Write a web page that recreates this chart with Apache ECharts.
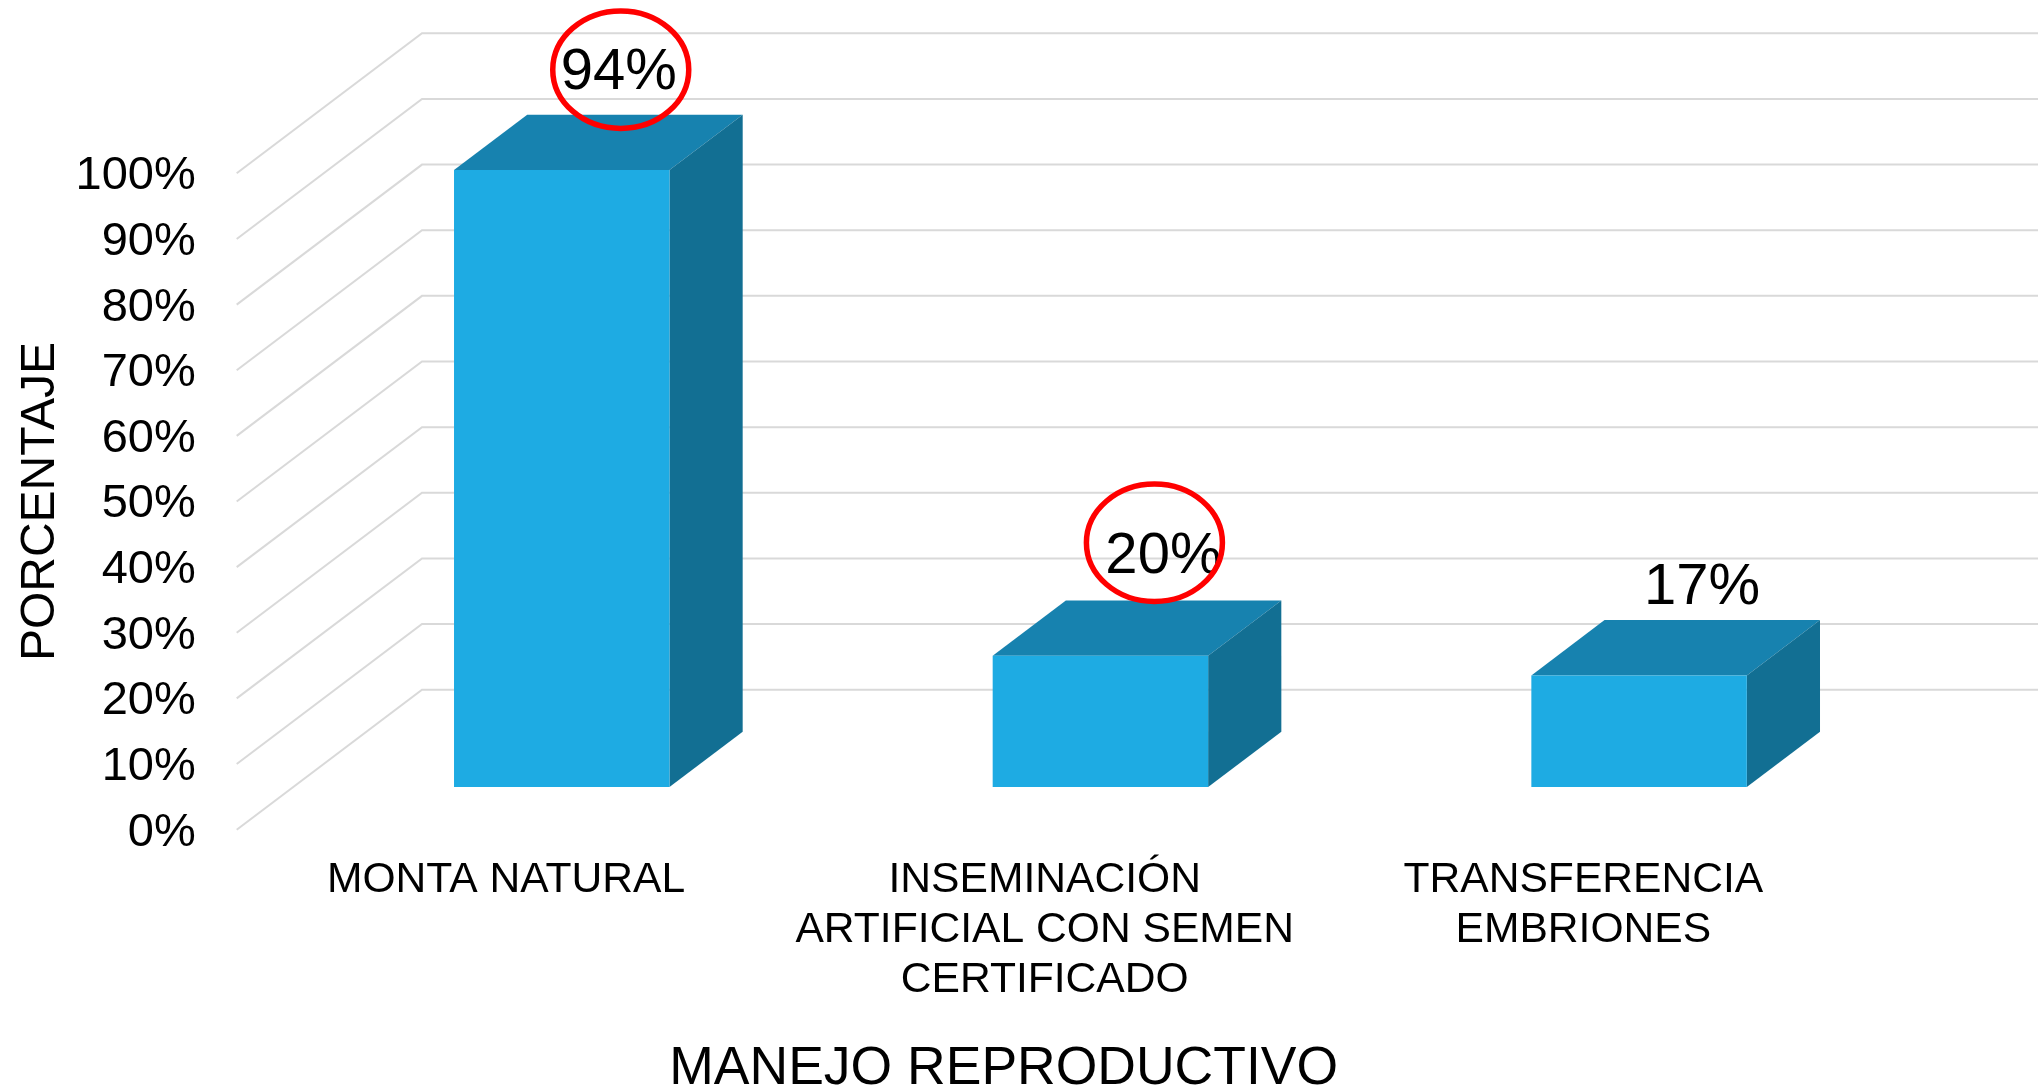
<!DOCTYPE html>
<html>
<head>
<meta charset="utf-8">
<style>html,body{margin:0;padding:0;background:#fff}#c{width:2038px;height:1090px}</style>
<script src="https://cdn.jsdelivr.net/npm/echarts@6/dist/echarts.min.js"></script>
</head>
<body>
<div id="c"></div>
<script>
const categories = ["MONTA NATURAL", "INSEMINACIÓN\nARTIFICIAL CON SEMEN\nCERTIFICADO", "TRANSFERENCIA\nEMBRIONES"];
const values = [94, 20, 17];
const circled = [true, true, false];
const yTicks = [0, 10, 20, 30, 40, 50, 60, 70, 80, 90, 100];

// Styling and layout of the pseudo-3D box
const FONT = '"Liberation Sans", Arial, sans-serif';
const DEPTH_X = 185.3, DEPTH_Y = 140;
const BAR_NEAR = 0.305, BAR_FAR = 0.70, BAR_WIDTH = 0.4, BAR_SHIFT = -0.8;
const labelOffsets = [[57, -97], [63, -99], [63, -87]];
const ringOffsets = [[59, -100.3], [54, -113], null];
const COL = { front: '#1EABE3', top: '#1782AF', side: '#126F93', grid: '#D9D9D9', ring: '#FF0000' };

const chart = echarts.init(document.getElementById('c'), null, { renderer: 'canvas' });

function renderGrid(params, api) {
  const cs = params.coordSys;
  const y = api.coord([0, api.value(0)])[1];
  return {
    type: 'polyline',
    shape: { points: [[cs.x, y], [cs.x + DEPTH_X, y - DEPTH_Y], [cs.x + cs.width + DEPTH_X, y - DEPTH_Y]] },
    style: { stroke: COL.grid, lineWidth: 2, fill: null },
    silent: true
  };
}

function renderBar(params, api) {
  const i = params.dataIndex;
  const p = api.coord([api.value(0), api.value(1)]);
  const base = api.coord([api.value(0), 0]);
  const band = api.size([1, 0])[0];
  const w = band * BAR_WIDTH;
  const nx = DEPTH_X * BAR_NEAR + BAR_SHIFT, ny = DEPTH_Y * BAR_NEAR;
  const fx = DEPTH_X * BAR_FAR + BAR_SHIFT, fy = DEPTH_Y * BAR_FAR;
  const l = p[0] - w / 2 + nx, r = p[0] + w / 2 + nx;
  const top = p[1] - ny, bot = base[1] - ny;
  const dx = fx - nx, dy = fy - ny;
  const children = [
    { type: 'polygon', shape: { points: [[l, top], [r, top], [r + dx, top - dy], [l + dx, top - dy]] }, style: { fill: COL.top } },
    { type: 'polygon', shape: { points: [[r, top], [r + dx, top - dy], [r + dx, bot - dy], [r, bot]] }, style: { fill: COL.side } },
    { type: 'rect', shape: { x: l, y: top, width: w, height: bot - top }, style: { fill: COL.front } }
  ];
  const cx = (l + r) / 2;
  children.push({
    type: 'text',
    style: {
      x: cx + labelOffsets[i][0], y: top + labelOffsets[i][1],
      text: api.value(1) + '%', fill: '#000', font: '58px ' + FONT,
      align: 'center', verticalAlign: 'middle'
    }
  });
  if (circled[i]) {
    children.push({
      type: 'ellipse',
      shape: { cx: cx + ringOffsets[i][0], cy: top + ringOffsets[i][1], rx: 68, ry: 58.7 },
      style: { stroke: COL.ring, lineWidth: 5.5, fill: null }
    });
  }
  return { type: 'group', children };
}

chart.setOption({
  animation: false,
  backgroundColor: '#fff',
  grid: { left: 236.7, top: 173.3, width: 1616, height: 656.4, outerBoundsMode: 'none' },
  xAxis: {
    type: 'category',
    data: categories,
    axisLine: { show: false },
    axisTick: { show: false },
    axisLabel: { color: '#000', fontFamily: FONT, fontSize: 42.6, lineHeight: 50, margin: 26, interval: 0 },
    name: 'MANEJO REPRODUCTIVO',
    nameLocation: 'middle',
    nameGap: 213,
    nameTextStyle: { color: '#000', fontFamily: FONT, fontSize: 53.5, padding: [0, 82, 0, 0] }
  },
  yAxis: {
    type: 'value',
    min: 0,
    max: 100,
    interval: 10,
    axisLine: { show: false },
    axisTick: { show: false },
    splitLine: { show: false },
    axisLabel: { color: '#000', fontFamily: FONT, fontSize: 47, margin: 41, verticalAlign: 'top', lineHeight: 6, formatter: '{value}%' },
    name: 'PORCENTAJE',
    nameLocation: 'middle',
    nameGap: 172,
    nameTextStyle: { color: '#000', fontFamily: FONT, fontSize: 48 }
  },
  series: [
    {
      type: 'custom', z: 1, silent: true, clip: false,
      encode: { y: 0 },
      renderItem: renderGrid,
      data: yTicks.map(v => [v])
    },
    {
      type: 'custom', z: 2, silent: true, clip: false,
      encode: { x: 0, y: 1 },
      renderItem: renderBar,
      data: values.map((v, i) => [i, v])
    }
  ]
});
</script>
</body>
</html>
